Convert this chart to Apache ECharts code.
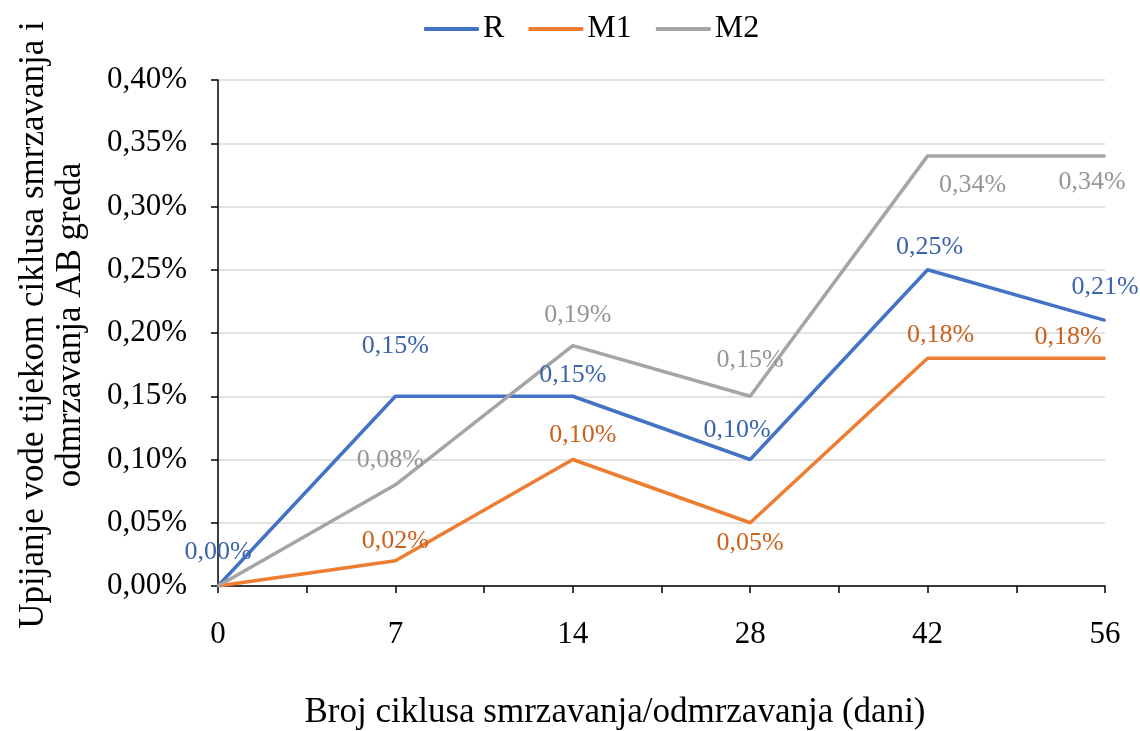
<!DOCTYPE html>
<html><head><meta charset="utf-8">
<script src="https://cdn.jsdelivr.net/npm/echarts@6/dist/echarts.min.js"></script>
<style>html,body{margin:0;padding:0;background:#fff}#c{width:1140px;height:731px}</style>
</head><body><div id="c"></div>
<script>
const categories = ['0', '7', '14', '28', '42', '56'];
const seriesNames = ['R', 'M1', 'M2'];
const valuesR  = [0.00, 0.15, 0.15, 0.10, 0.25, 0.21];
const valuesM1 = [0.00, 0.02, 0.10, 0.05, 0.18, 0.18];
const valuesM2 = [0.00, 0.08, 0.19, 0.15, 0.34, 0.34];
const yTicks = [0, 0.05, 0.10, 0.15, 0.20, 0.25, 0.30, 0.35, 0.40];
const xTitle = 'Broj ciklusa smrzavanja/odmrzavanja (dani)';
const yTitle = 'Upijanje vode tijekom ciklusa smrzavanja i\nodmrzavanja AB greda';

// label offsets (styling only)
const offR  = [[0,-34],[0,-50],[0,-21],[-13,-29],[2,-23],[0,-33]];
const offM1 = [null,[0,-20],[10,-24],[0,20],[13,-23],[-37,-21]];
const offM2 = [null,[-5,-25],[5,-30],[0,-36],[45,29],[-13,26]];

const FONT = 'Liberation Serif';
const fmt = v => v.toFixed(2).replace('.', ',') + '%';

function build(vals, offs, labelColor) {
  return vals.map((v, i) => {
    const o = offs[i];
    return {
      value: [i, v],
      label: o ? {show: true, position: 'inside', offset: o, color: labelColor,
                  fontFamily: FONT, fontSize: 26, formatter: p => fmt(p.value[1])}
               : {show: false}
    };
  });
}

const colors = ['#4472C4', '#ED7D31', '#A5A5A5'];
const labelColors = ['#3C64AA', '#C8621E', '#969696'];
const chart = echarts.init(document.getElementById('c'));

function mkSeries(k, vals, offs) {
  return {name: seriesNames[k], type: 'line', data: build(vals, offs, labelColors[k]),
    symbol: 'circle', symbolSize: 2, showSymbol: true,
    lineStyle: {color: colors[k], width: 3.5}, itemStyle: {color: colors[k]}};
}

chart.setOption({
  animation: false,
  color: colors,
  legend: {
    data: seriesNames, top: 8, left: 419, itemWidth: 55, itemHeight: 4, itemGap: 24,
    icon: 'roundRect',
    textStyle: {fontFamily: FONT, fontSize: 32, color: '#000', padding: [0,0,0,-1]}
  },
  grid: {left: 218, right: 35, top: 80, bottom: 145, containLabel: false},
  xAxis: {
    type: 'value', min: 0, max: categories.length - 1, interval: 0.5,
    axisLine: {show: true, lineStyle: {color: '#000', width: 1.5}},
    axisTick: {show: true, length: 7, lineStyle: {color: '#000', width: 1.5}},
    splitLine: {show: false},
    axisLabel: {
      fontFamily: FONT, fontSize: 31, color: '#000', margin: 33,
      formatter: v => Number.isInteger(v) ? categories[v] : ''
    }
  },
  yAxis: {
    type: 'value', min: yTicks[0], max: yTicks[yTicks.length - 1], interval: 0.05,
    axisLine: {show: true, lineStyle: {color: '#000', width: 1.5}},
    axisTick: {show: true, length: 7, inside: false, lineStyle: {color: '#000', width: 1.5}},
    splitLine: {show: true, lineStyle: {color: '#D9D9D9', width: 1.5}},
    axisLabel: {fontFamily: FONT, fontSize: 31, color: '#000', margin: 31, formatter: v => fmt(v)}
  },
  graphic: [
    {type: 'text', x: 615, y: 713,
     style: {text: xTitle, fontFamily: FONT, fontSize: 35, fill: '#000', align: 'center', verticalAlign: 'middle'}},
    {type: 'text', x: 52, y: 325, rotation: Math.PI / 2,
     style: {text: yTitle, fontFamily: FONT, fontSize: 35, fill: '#000', align: 'center',
             verticalAlign: 'middle', lineHeight: 37}}
  ],
  series: [mkSeries(0, valuesR, offR), mkSeries(1, valuesM1, offM1), mkSeries(2, valuesM2, offM2)]
});
</script></body></html>
